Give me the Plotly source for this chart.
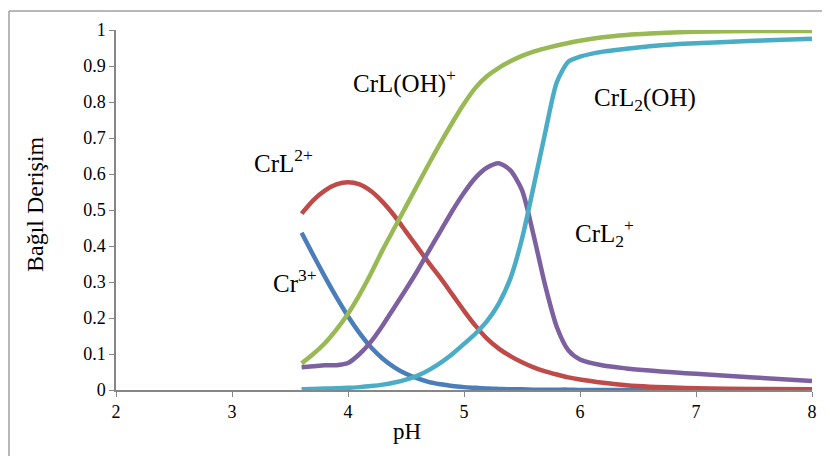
import plotly.graph_objects as go

pH = [3.6, 3.7, 3.8, 3.9, 4.0, 4.1, 4.2, 4.3, 4.4, 4.5, 4.6, 4.7, 4.8, 4.9, 5.0,
      5.1, 5.2, 5.3, 5.4, 5.5, 5.6, 5.7, 5.8, 5.9, 6.0, 6.2, 6.4, 6.6, 6.8, 7.0,
      7.5, 8.0]

cr3 = [0.437, 0.375, 0.315, 0.258, 0.205, 0.158, 0.118, 0.087, 0.063, 0.045, 0.032,
       0.022, 0.016, 0.011, 0.008, 0.006, 0.004, 0.003, 0.002, 0.002, 0.001, 0.001,
       0.001, 0.001, 0.0, 0.0, 0.0, 0.0, 0.0, 0.0, 0.0, 0.0]
crl = [0.49, 0.527, 0.554, 0.571, 0.577, 0.571, 0.552, 0.522, 0.484, 0.44, 0.396,
       0.352, 0.31, 0.265, 0.22, 0.178, 0.142, 0.115, 0.094, 0.077, 0.063, 0.052,
       0.043, 0.035, 0.029, 0.02, 0.013, 0.009, 0.007, 0.005, 0.003, 0.002]
crloh = [0.074, 0.1, 0.13, 0.168, 0.212, 0.265, 0.325, 0.39, 0.45, 0.51, 0.57,
         0.63, 0.688, 0.743, 0.795, 0.84, 0.872, 0.895, 0.913, 0.928, 0.94, 0.949,
         0.957, 0.964, 0.97, 0.98, 0.986, 0.99, 0.993, 0.995, 0.997, 0.997]
crl2 = [0.063, 0.066, 0.069, 0.069, 0.075, 0.1, 0.135, 0.18, 0.23, 0.28, 0.332,
        0.388, 0.443, 0.498, 0.548, 0.59, 0.618, 0.63, 0.61, 0.555, 0.43, 0.29, 0.175,
        0.11, 0.085, 0.068, 0.06, 0.054, 0.049, 0.045, 0.035, 0.025]
crl2oh = [0.002, 0.003, 0.004, 0.005, 0.006, 0.008, 0.011, 0.015, 0.021, 0.029,
          0.04, 0.056, 0.076, 0.1, 0.128, 0.157, 0.192, 0.24, 0.31, 0.42, 0.565,
          0.715, 0.855, 0.912, 0.926, 0.94, 0.948, 0.955, 0.96, 0.963, 0.97, 0.976]

series_names = ["Cr3+", "CrL2+", "CrL(OH)+", "CrL2+ (bis)", "CrL2(OH)"]
series_vals = [cr3, crl, crloh, crl2, crl2oh]
colors = ["#4A7EBB", "#BE4B48", "#98B954", "#7D60A0", "#4BACC6"]

x_ticks = [2, 3, 4, 5, 6, 7, 8]
y_ticks = [0, 0.1, 0.2, 0.3, 0.4, 0.5, 0.6, 0.7, 0.8, 0.9, 1]
y_tick_text = ["0", "0.1", "0.2", "0.3", "0.4", "0.5", "0.6", "0.7", "0.8", "0.9", "1"]

labels = ["Cr<sup>3+</sup>", "CrL<sup>2+</sup>", "CrL(OH)<sup>+</sup>",
          "CrL<sub>2</sub><sup>+</sup>", "CrL<sub>2</sub>(OH)"]
label_x = [3.34, 3.17, 4.03, 5.94, 6.10]
label_y = [0.304, 0.635, 0.856, 0.436, 0.807]

fig = go.Figure()
for name, vals, c in zip(series_names, series_vals, colors):
    fig.add_trace(go.Scatter(x=pH, y=vals, mode="lines", name=name,
                             line=dict(color=c, width=4.5, shape="spline", smoothing=0.7)))

font = "Liberation Serif"
W, H = 830, 456
OFF = 8  # page body margin
L, T = 116 - OFF, 28 - OFF
pw, ph = 696, 362
R = W - L - pw
B = H - T - ph

def fx(x_fig):
    return (x_fig - L) / pw

def fy(y_fig):
    return (T + ph - y_fig) / ph

def px(xp):
    return fx(xp - OFF)

def py(yp):
    return fy(yp - OFF)

annotations = []
for t, xv, yv in zip(labels, label_x, label_y):
    annotations.append(dict(x=xv, y=yv, xref="x", yref="y", text=t, showarrow=False,
                            xanchor="left", yanchor="middle",
                            font=dict(family=font, size=25, color="black")))
annotations.append(dict(x=px(407), y=py(432), xref="paper", yref="paper", text="pH",
                        showarrow=False, xanchor="center", yanchor="middle",
                        font=dict(family=font, size=23, color="black")))
annotations.append(dict(x=px(35), y=py(203), xref="paper", yref="paper",
                        text="Bağıl Derişim", textangle=-90, showarrow=False,
                        xanchor="center", yanchor="middle",
                        font=dict(family=font, size=24, color="black")))

shapes = [
    dict(type="line", xref="paper", yref="paper", x0=fx(1), y0=fy(H + 5), x1=fx(1), y1=fy(1),
         line=dict(color="#A0A0A0", width=1.5)),
    dict(type="line", xref="paper", yref="paper", x0=fx(1), y0=fy(1), x1=fx(W + 5), y1=fy(1),
         line=dict(color="#A0A0A0", width=1.5)),
]

fig.update_layout(
    width=W, height=H,
    margin=dict(l=L, r=R, t=T, b=B, pad=0),
    paper_bgcolor="white", plot_bgcolor="white",
    showlegend=False,
    annotations=annotations, shapes=shapes,
    font=dict(family=font, color="black"),
    xaxis=dict(range=[2, 8], tickvals=x_ticks, ticktext=[str(v) for v in x_ticks],
               showgrid=False, zeroline=False, showline=True, linecolor="#868686",
               linewidth=1.5, ticks="outside", ticklen=5, tickcolor="#868686",
               tickfont=dict(family=font, size=18, color="black")),
    yaxis=dict(range=[0, 1], tickvals=y_ticks, ticktext=y_tick_text,
               showgrid=False, zeroline=False, showline=True, linecolor="#868686",
               linewidth=1.5, ticks="outside", ticklen=5, tickcolor="#868686",
               tickfont=dict(family=font, size=18, color="black")),
)

fig.write_html("out.html")
